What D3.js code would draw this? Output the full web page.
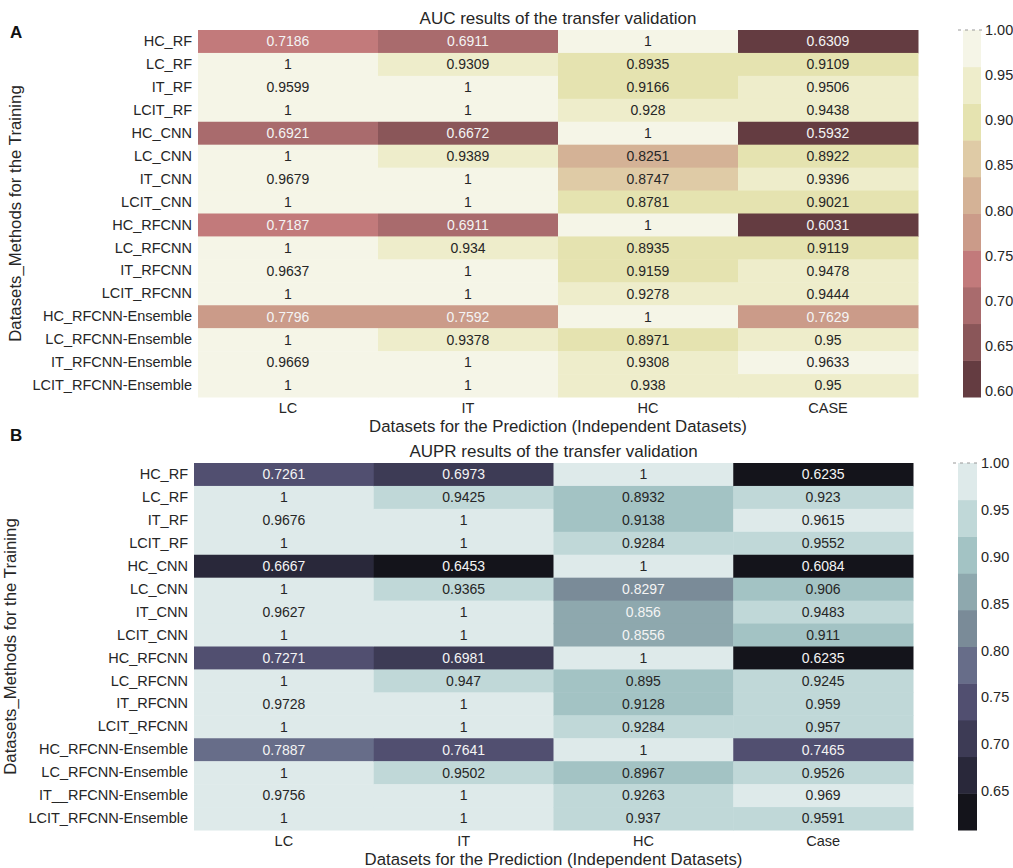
<!DOCTYPE html>
<html>
<head>
<meta charset="utf-8">
<script src="https://cdn.jsdelivr.net/npm/d3@7"></script>
<style>
  body { margin: 0; background: #fff; }
  text { font-family: "Liberation Sans", Arial, sans-serif; }
</style>
</head>
<body>
<div id="chart-area"></div>
<script>
// rows (training datasets / methods) shared by both panels
var rowLabels = ["HC_RF", "LC_RF", "IT_RF", "LCIT_RF", "HC_CNN", "LC_CNN", "IT_CNN", "LCIT_CNN",
                 "HC_RFCNN", "LC_RFCNN", "IT_RFCNN", "LCIT_RFCNN", "HC_RFCNN-Ensemble",
                 "LC_RFCNN-Ensemble", "IT_RFCNN-Ensemble", "LCIT_RFCNN-Ensemble"];
var rowLabelsB = ["HC_RF", "LC_RF", "IT_RF", "LCIT_RF", "HC_CNN", "LC_CNN", "IT_CNN", "LCIT_CNN",
                 "HC_RFCNN", "LC_RFCNN", "IT_RFCNN", "LCIT_RFCNN", "HC_RFCNN-Ensemble",
                 "LC_RFCNN-Ensemble", "IT__RFCNN-Ensemble", "LCIT_RFCNN-Ensemble"];

var colsA = ["LC", "IT", "HC", "CASE"];
var colsB = ["LC", "IT", "HC", "Case"];

// AUC values, one array per prediction dataset
var aucLC   = [0.7186, 1, 0.9599, 1, 0.6921, 1, 0.9679, 1, 0.7187, 1, 0.9637, 1, 0.7796, 1, 0.9669, 1];
var aucIT   = [0.6911, 0.9309, 1, 1, 0.6672, 0.9389, 1, 1, 0.6911, 0.934, 1, 1, 0.7592, 0.9378, 1, 1];
var aucHC   = [1, 0.8935, 0.9166, 0.928, 1, 0.8251, 0.8747, 0.8781, 1, 0.8935, 0.9159, 0.9278, 1, 0.8971, 0.9308, 0.938];
var aucCASE = [0.6309, 0.9109, 0.9506, 0.9438, 0.5932, 0.8922, 0.9396, 0.9021, 0.6031, 0.9119, 0.9478, 0.9444, 0.7629, 0.95, 0.9633, 0.95];

// AUPR values
var auprLC   = [0.7261, 1, 0.9676, 1, 0.6667, 1, 0.9627, 1, 0.7271, 1, 0.9728, 1, 0.7887, 1, 0.9756, 1];
var auprIT   = [0.6973, 0.9425, 1, 1, 0.6453, 0.9365, 1, 1, 0.6981, 0.947, 1, 1, 0.7641, 0.9502, 1, 1];
var auprHC   = [1, 0.8932, 0.9138, 0.9284, 1, 0.8297, 0.856, 0.8556, 1, 0.895, 0.9128, 0.9284, 1, 0.8967, 0.9263, 0.937];
var auprCase = [0.6235, 0.923, 0.9615, 0.9552, 0.6084, 0.906, 0.9483, 0.911, 0.6235, 0.9245, 0.959, 0.957, 0.7465, 0.9526, 0.969, 0.9591];

var ticksA = [1.00, 0.95, 0.90, 0.85, 0.80, 0.75, 0.70, 0.65, 0.60];
var ticksB = [1.00, 0.95, 0.90, 0.85, 0.80, 0.75, 0.70, 0.65];

// discrete palettes, high value first
var paletteA = ["#f5f5e7", "#eeedcb", "#e5e3b0", "#dfcba6", "#d4b296", "#cb9b89", "#c27a7b", "#a96b6d", "#8a5659", "#643c41"];
var paletteB = ["#deeaea", "#c0d8d8", "#a3c3c4", "#8ea8ae", "#7a8b98", "#676d89", "#514f70", "#3d3b55", "#29283a", "#14141b"];

var width = 1013, height = 868;
var svg = d3.select("#chart-area").append("svg").attr("width", width).attr("height", height);

// relative luminance, same rule seaborn uses to pick annotation colour
function lum(c) {
    var rgb = d3.rgb(c);
    var f = function(v) { v = v / 255; return v <= 0.03928 ? v / 12.92 : Math.pow((v + 0.055) / 1.055, 2.4); };
    return 0.2126 * f(rgb.r) + 0.7152 * f(rgb.g) + 0.0722 * f(rgb.b);
}

function drawPanel(opt) {
    var cols = opt.cols;
    var series = opt.series;
    var cells = [];
    series.forEach(function(s, ci) {
        s.forEach(function(v, ri) { cells.push({row: opt.rows[ri], col: cols[ci], value: v}); });
    });

    var allVals = cells.map(function(d) { return d.value; });
    var vmin = d3.min(allVals), vmax = d3.max(allVals);

    var x = d3.scaleBand().domain(cols).range([opt.left, opt.right]);
    var y = d3.scaleBand().domain(opt.rows).range([opt.top, opt.bottom]);
    var color = d3.scaleQuantize().domain([vmin, vmax]).range(opt.palette.slice().reverse());

    var g = svg.append("g");

    g.selectAll("rect.cell").data(cells).enter().append("rect")
        .attr("class", "cell")
        .attr("x", function(d) { return x(d.col); })
        .attr("y", function(d) { return y(d.row); })
        .attr("width", x.bandwidth() + 0.5)
        .attr("height", y.bandwidth() + 0.5)
        .attr("fill", function(d) { return color(d.value); });

    g.selectAll("text.annot").data(cells).enter().append("text")
        .attr("class", "annot")
        .attr("x", function(d) { return x(d.col) + x.bandwidth() / 2; })
        .attr("y", function(d) { return y(d.row) + y.bandwidth() / 2; })
        .attr("dy", "0.35em")
        .attr("text-anchor", "middle")
        .attr("font-size", "14px")
        .attr("fill", function(d) { return lum(color(d.value)) > 0.408 ? "#262626" : "#f4f4f4"; })
        .text(function(d) { return d3.format("")(d.value); });

    // axes
    var yAxis = d3.axisLeft(y).tickSize(0).tickPadding(6);
    var ya = g.append("g").attr("transform", "translate(" + opt.left + ",0)").call(yAxis);
    ya.select(".domain").remove();
    ya.selectAll("text").attr("font-size", "14.5px").attr("fill", "#262626").attr("font-family", "Liberation Sans, Arial, sans-serif");

    var xAxis = d3.axisBottom(x).tickSize(0).tickPadding(6);
    var xa = g.append("g").attr("transform", "translate(0," + opt.bottom + ")").call(xAxis);
    xa.select(".domain").remove();
    xa.selectAll("text").attr("font-size", "14.5px").attr("fill", "#262626").attr("font-family", "Liberation Sans, Arial, sans-serif");

    var cx = (opt.left + opt.right) / 2;
    g.append("text").attr("x", cx).attr("y", opt.top - 6).attr("text-anchor", "middle")
        .attr("font-size", "17px").attr("fill", "#262626").text(opt.title);
    g.append("text").attr("x", cx).attr("y", opt.bottom + 35).attr("text-anchor", "middle")
        .attr("font-size", "16.8px").attr("fill", "#262626").text("Datasets for the Prediction (Independent Datasets)");
    g.append("text").attr("transform", "translate(" + opt.ytitleX + "," + ((opt.top + opt.bottom) / 2) + ") rotate(-90)")
        .attr("text-anchor", "middle").attr("font-size", "16.8px").attr("fill", "#262626")
        .text("Datasets_Methods for the Training");
    g.append("text").attr("x", 10).attr("y", opt.letterY).attr("font-size", "17px").attr("font-weight", "bold")
        .attr("fill", "#111").text(opt.letter);

    // colour bar
    var cb = d3.scaleLinear().domain([vmin, vmax]).range([opt.bottom, opt.top]);
    var step = (vmax - vmin) / opt.palette.length;
    var bands = d3.range(opt.palette.length).map(function(i) { return vmin + i * step; });
    g.selectAll("rect.cb").data(bands).enter().append("rect")
        .attr("class", "cb")
        .attr("x", opt.cbX).attr("width", opt.cbW)
        .attr("y", function(d) { return cb(d + step); })
        .attr("height", function(d) { return cb(d) - cb(d + step) + 0.5; })
        .attr("fill", function(d) { return color(d + step / 2); });

    var cbAxis = d3.axisRight(cb).tickValues(opt.ticks).tickFormat(d3.format(".2f")).tickSize(0).tickPadding(4);
    var ca = g.append("g").attr("transform", "translate(" + (opt.cbX + opt.cbW) + ",0)").call(cbAxis);
    ca.select(".domain").remove();
    ca.selectAll("text").attr("font-size", "14.5px").attr("fill", "#262626").attr("font-family", "Liberation Sans, Arial, sans-serif");
    g.append("line").attr("x1", opt.cbX - 5).attr("x2", opt.cbX + opt.cbW + 2)
        .attr("y1", opt.top).attr("y2", opt.top)
        .attr("stroke", "#999").attr("stroke-dasharray", "3,4");
}

drawPanel({
    letter: "A", letterY: 38, title: "AUC results of the transfer validation",
    rows: rowLabels, cols: colsA, series: [aucLC, aucIT, aucHC, aucCASE],
    palette: paletteA, ticks: ticksA,
    left: 198, right: 918, top: 30, bottom: 397, ytitleX: 21,
    cbX: 963, cbW: 18
});

drawPanel({
    letter: "B", letterY: 441, title: "AUPR results of the transfer validation",
    rows: rowLabelsB, cols: colsB, series: [auprLC, auprIT, auprHC, auprCase],
    palette: paletteB, ticks: ticksB,
    left: 194, right: 913, top: 463, bottom: 830, ytitleX: 16,
    cbX: 958, cbW: 19
});
</script>
</body>
</html>
